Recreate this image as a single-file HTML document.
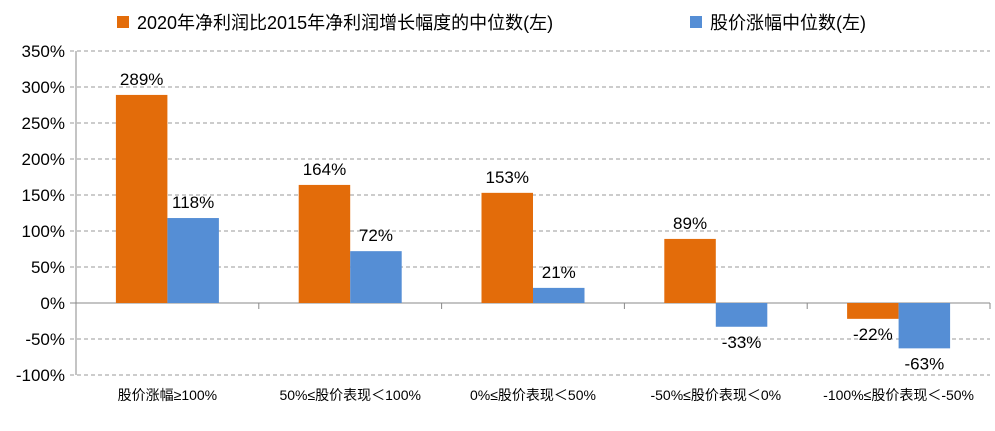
<!DOCTYPE html>
<html><head><meta charset="utf-8"><style>
html,body{margin:0;padding:0;background:#fff}
svg{display:block;font-family:"Liberation Sans","Noto Sans CJK SC",sans-serif}
</style></head><body>
<svg id="chart" width="995" height="431"></svg>
<script>
const categories=["股价涨幅≥100%","50%≤股价表现＜100%","0%≤股价表现＜50%","-50%≤股价表现＜0%","-100%≤股价表现＜-50%"];
const profitGrowth=[289,164,153,89,-22];
const priceChange=[118,72,21,-33,-63];
const yTicks=[350,300,250,200,150,100,50,0,-50,-100];
const seriesNames=["2020年净利润比2015年净利润增长幅度的中位数(左)","股价涨幅中位数(左)"];
const colors=["#E36C0A","#558ED5"];
const NS="http://www.w3.org/2000/svg";
const svg=document.getElementById('chart');
const x0=76,x1=990,yTop=51,yBot=375,yMax=350,yMin=-100;
const y=v=>yTop+(yMax-v)*(yBot-yTop)/(yMax-yMin);
const bandW=(x1-x0)/categories.length;
const bx=i=>x0+bandW*i;
const barW=51.5;
function mk(tag,attrs,parent){const e=document.createElementNS(NS,tag);for(const k in attrs)e.setAttribute(k,attrs[k]);(parent||svg).appendChild(e);return e;}
yTicks.forEach(t=>{
  const g=mk('line',{x1:70,x2:x1,y1:y(t),y2:y(t),stroke:t===0?'#888':'#999','stroke-dasharray':t===0?'':'4,3'});
  
  
  const l=mk('text',{x:65,y:y(t)+6,'text-anchor':'end','font-size':17,fill:'#000'});
  l.textContent=t+'%';
  
  
});
const ax=mk('line',{x1:x0,x2:x0,y1:yTop,y2:yBot,stroke:'#888'});


for(let i=0;i<=categories.length;i++){
  const t=mk('line',{x1:bx(i),x2:bx(i),y1:y(0),y2:y(0)+6,stroke:'#888'});
  
  
}
categories.forEach((c,i)=>{
  const cx=bx(i)+bandW/2;
  [profitGrowth,priceChange].forEach((s,j)=>{
    const v=s[i];const xx=cx-barW+j*barW;
    const r=mk('rect',{x:xx,y:Math.min(y(v),y(0)),width:barW,height:Math.abs(y(v)-y(0)),fill:colors[j]});
    
    
    const ly=v>=0?y(v)-10:y(v)+21;
    const tx=mk('text',{x:xx+barW/2,y:ly,'text-anchor':'middle','font-size':17,fill:'#000'});
    tx.textContent=v+'%';
    
    
  });
  const cl=mk('text',{x:cx,y:400,'text-anchor':'middle','font-size':14,fill:'#000'});
  cl.textContent=c;
  
  
});
const legX=[117,690];
seriesNames.forEach((n,j)=>{
  const r=mk('rect',{x:legX[j],y:16,width:12,height:12,fill:colors[j]});
  
  
  const t=mk('text',{x:legX[j]+20,y:29,'font-size':18,fill:'#000'});
  t.textContent=n;
  
  
});
</script>
</body></html>
